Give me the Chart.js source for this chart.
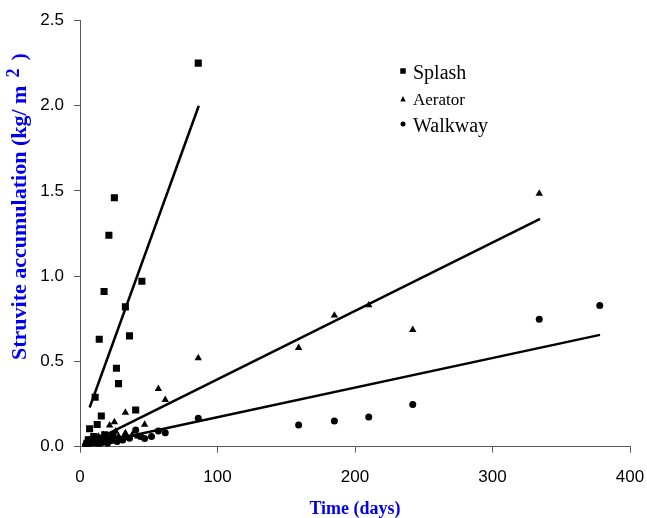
<!DOCTYPE html>
<html>
<head>
<meta charset="utf-8">
<style>
html,body{margin:0;padding:0;background:#ffffff;}
#wrap{width:647px;height:518px;position:relative;}
</style>
<script src="https://cdn.jsdelivr.net/npm/chart.js@4.4.0/dist/chart.umd.min.js"></script>
</head>
<body>
<div id="wrap"><canvas id="c" width="647" height="518"></canvas></div>
<script>
// ---- data ----
const seriesNames = ['Splash', 'Aerator', 'Walkway'];

const splashDays = [5, 6, 7, 8, 9, 10, 11, 12.5, 13, 14, 15.5, 16, 17.5, 18, 20, 21, 22, 24, 25, 26.5, 28, 33, 36, 40.5, 45, 86];
const splashVals = [0.02, 0.04, 0.105, 0.04, 0.03, 0.06, 0.29, 0.13, 0.05, 0.63, 0.18, 0.03, 0.91, 0.07, 0.05, 1.24, 0.04, 0.06, 1.46, 0.46, 0.37, 0.82, 0.65, 0.215, 0.97, 2.25];

const aeratorDays = [7, 8, 10, 11, 13.5, 15, 17, 20, 21.5, 25, 26, 28, 33, 33, 38, 42, 47, 57, 62, 86, 159, 185, 210, 242, 334];
const aeratorVals = [0.03, 0.02, 0.045, 0.03, 0.06, 0.04, 0.07, 0.05, 0.125, 0.145, 0.09, 0.06, 0.2, 0.08, 0.07, 0.06, 0.13, 0.34, 0.275, 0.52, 0.58, 0.77, 0.83, 0.685, 1.485];

const walkwayDays = [4, 5, 7, 8, 9, 11, 12, 13, 14, 16, 17, 19, 20, 22, 24, 25, 27, 29, 31, 33, 36, 40.5, 44, 47, 52, 57, 62, 86, 159, 185, 210, 242, 334, 378];
const walkwayVals = [0.01, 0.02, 0.016, 0.03, 0.025, 0.02, 0.035, 0.03, 0.015, 0.025, 0.04, 0.03, 0.02, 0.035, 0.05, 0.04, 0.03, 0.045, 0.04, 0.06, 0.05, 0.098, 0.06, 0.048, 0.06, 0.092, 0.082, 0.167, 0.127, 0.151, 0.174, 0.247, 0.748, 0.828];

// fitted trend lines (end points)
const splashTrendDays = [7, 86.4];
const splashTrendVals = [0.23, 2.0];
const aeratorTrendDays = [14, 334.6];
const aeratorTrendVals = [0.05, 1.337];
const walkwayTrendDays = [6, 378.2];
const walkwayTrendVals = [0.01, 0.656];

const xTickValues = [0, 100, 200, 300, 400];
const yTickValues = [0.0, 0.5, 1.0, 1.5, 2.0, 2.5];

const xTitle = 'Time (days)';
const yTitleMain = 'Struvite accumulation (kg/ m';
const yTitleSup = '2';
const yTitleEnd = ')';

// ---- helpers ----
function pts(xs, ys) { return xs.map((x, i) => ({ x: x, y: ys[i] })); }

const insideLegend = {
  id: 'insideLegend',
  afterDatasetsDraw(chart, args, opts) {
    const ctx = chart.ctx;
    const a = chart.chartArea;
    ctx.save();
    ctx.fillStyle = '#000';
    opts.items.forEach((it, i) => {
      const cx = a.left + opts.markerX;
      const cy = a.top + it.markerY;
      const s = it.size;
      ctx.beginPath();
      if (it.shape === 'rect') {
        ctx.rect(cx - s / 2, cy - s / 2, s, s);
      } else if (it.shape === 'triangle') {
        ctx.moveTo(cx, cy - s * 0.55);
        ctx.lineTo(cx + s / 2, cy + s * 0.45);
        ctx.lineTo(cx - s / 2, cy + s * 0.45);
        ctx.closePath();
      } else {
        ctx.arc(cx, cy, s / 2, 0, Math.PI * 2);
      }
      ctx.fill();
      ctx.font = it.fontSize + 'px "Liberation Serif", "Times New Roman", serif';
      ctx.textAlign = 'left';
      ctx.textBaseline = 'alphabetic';
      ctx.fillText(seriesNames[i], a.left + opts.textX, a.top + it.baseY);
    });
    ctx.restore();
  }
};

// y-axis title with a real superscript
const yAxisTitle = {
  id: 'yAxisTitle',
  afterDraw(chart, args, o) {
    const ctx = chart.ctx;
    const a = chart.chartArea;
    const fam = '"Liberation Serif", "Times New Roman", serif';
    ctx.save();
    ctx.translate(o.baselineX, a.top + o.startY);
    ctx.rotate(-Math.PI / 2);
    ctx.fillStyle = o.color;
    ctx.textAlign = 'left';
    ctx.textBaseline = 'alphabetic';
    ctx.font = 'bold ' + o.size + 'px ' + fam;
    ctx.fillText(yTitleMain, 0, 0);
    let w = ctx.measureText(yTitleMain).width + o.supGap;
    ctx.font = 'bold ' + o.supSize + 'px ' + fam;
    ctx.fillText(yTitleSup, w, -o.supRise);
    w += ctx.measureText(yTitleSup).width + o.closeGap;
    ctx.font = 'bold ' + o.size + 'px ' + fam;
    ctx.fillText(yTitleEnd, w, 0);
    ctx.restore();
  }
};

const axisGray = '#5a5a5a';

new Chart(document.getElementById('c'), {
  type: 'scatter',
  data: {
    datasets: [
      { label: seriesNames[0], data: pts(splashDays, splashVals), pointStyle: 'rect', pointRadius: 5, pointHoverRadius: 5,
        backgroundColor: '#000', borderColor: '#000', borderWidth: 0 },
      { label: seriesNames[1], data: pts(aeratorDays, aeratorVals), pointStyle: 'triangle', pointRadius: 4.3, pointHoverRadius: 4.3,
        backgroundColor: '#000', borderColor: '#000', borderWidth: 0 },
      { label: seriesNames[2], data: pts(walkwayDays, walkwayVals), pointStyle: 'circle', pointRadius: 3.5, pointHoverRadius: 3.5,
        backgroundColor: '#000', borderColor: '#000', borderWidth: 0 },
      { label: 'Splash trend', data: pts(splashTrendDays, splashTrendVals), showLine: true, pointRadius: 0, borderColor: '#000', borderWidth: 2.5, fill: false },
      { label: 'Aerator trend', data: pts(aeratorTrendDays, aeratorTrendVals), showLine: true, pointRadius: 0, borderColor: '#000', borderWidth: 2.5, fill: false },
      { label: 'Walkway trend', data: pts(walkwayTrendDays, walkwayTrendVals), showLine: true, pointRadius: 0, borderColor: '#000', borderWidth: 2.5, fill: false }
    ]
  },
  options: {
    responsive: false,
    animation: false,
    devicePixelRatio: 1,
    layout: { padding: { top: 20.5, right: 17, bottom: 0, left: 0 } },
    plugins: {
      legend: { display: false },
      tooltip: { enabled: false },
      insideLegend: {
        markerX: 323,
        textX: 333,
        items: [
          { shape: 'rect', size: 5.5, markerY: 50.5, baseY: 58.5, fontSize: 20 },
          { shape: 'triangle', size: 5.5, markerY: 78.5, baseY: 84.5, fontSize: 17 },
          { shape: 'circle', size: 5, markerY: 103.5, baseY: 111.5, fontSize: 20 }
        ]
      },
      yAxisTitle: {
        color: '#0000ee',
        size: 22,
        supSize: 18,
        supRise: 7,
        supGap: 8,
        closeGap: 8,
        baselineX: 26,
        startY: 339.5
      }
    },
    scales: {
      x: {
        type: 'linear',
        min: xTickValues[0],
        max: xTickValues[xTickValues.length - 1],
        afterBuildTicks(s) { s.ticks = xTickValues.map(v => ({ value: v })); },
        afterFit(s) { s.height = 71.3; s.paddingLeft = 0; s.paddingRight = 0; },
        ticks: { color: '#000', padding: 14, font: { family: 'Liberation Sans', size: 17 }, callback: v => String(v) },
        grid: { display: true, drawOnChartArea: false, drawTicks: true, tickLength: 6, color: axisGray },
        border: { display: true, color: axisGray, width: 1 },
        title: { display: true, text: xTitle, color: '#0000ee', padding: { top: 0, bottom: 0 },
          font: { family: 'Liberation Serif', size: 18, weight: 'bold', lineHeight: 1 } }
      },
      y: {
        type: 'linear',
        min: yTickValues[0],
        max: yTickValues[yTickValues.length - 1],
        afterBuildTicks(s) { s.ticks = yTickValues.map(v => ({ value: v })); },
        afterFit(s) { s.width = 80; s.paddingTop = 0; s.paddingBottom = 0; },
        ticks: { color: '#000', padding: 10, font: { family: 'Liberation Sans', size: 17 }, callback: v => Number(v).toFixed(1) },
        grid: { display: true, drawOnChartArea: false, drawTicks: true, tickLength: 6, color: axisGray },
        border: { display: true, color: axisGray, width: 1 },
        title: { display: false }
      }
    }
  },
  plugins: [insideLegend, yAxisTitle]
});
</script>
</body>
</html>
